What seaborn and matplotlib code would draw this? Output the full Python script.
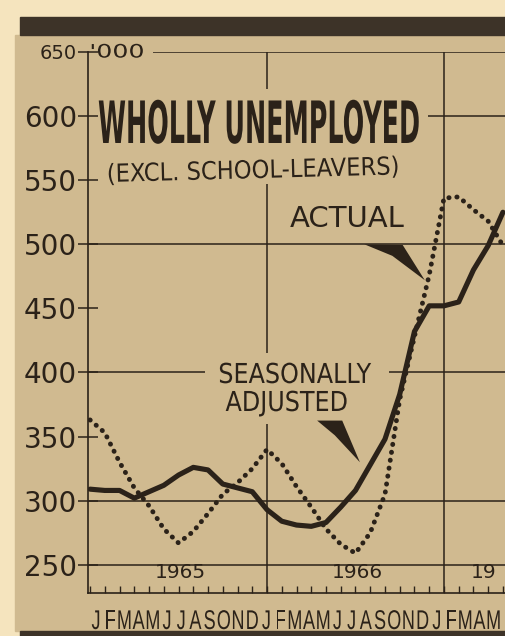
import matplotlib
matplotlib.use("Agg")
import matplotlib.pyplot as plt
import matplotlib.patheffects as pe
from matplotlib.transforms import Affine2D
from matplotlib.patches import Rectangle
import pandas as pd
import seaborn as sns

# wholly unemployed, thousands, one value per month from Jan 1965
months = list(range(29))
actual = [363, 353, 330, 310, 296, 278, 267, 276, 290, 305, 314, 325, 340,
          329, 311, 295, 278, 266, 259, 275, 305, 379, 428, 476, 536, 537,
          527, 518, 499]
adjusted = [309, 308, 308, 302, 307, 312, 320, 326, 324, 313, 310, 307, 293,
            284, 281, 280, 283, 295, 308, 328, 348, 383, 432, 452, 452, 455,
            480, 499, 525]
month_letters = list("JFMAMJJASONDJFMAMJJASONDJFMAM")
year_labels = ["1965", "1966", "19"]   # the third one is cropped in the cutting
y_ticks = [250, 300, 350, 400, 450, 500, 550, 600, 650]

PAPER = "#f5e4be"
SCREEN = "#d0ba90"
INK = "#2b2219"
W, H = 505, 636


class Shape(pe.AbstractPathEffect):
    """Squeeze/stretch glyphs, to get the tall poster lettering."""
    def __init__(self, sx, sy):
        super().__init__()
        self.sx, self.sy = sx, sy

    def draw_path(self, renderer, gc, tpath, affine, rgbFace=None):
        renderer.draw_path(gc, tpath, Affine2D().scale(self.sx, self.sy) + affine, rgbFace)


def px(x, y):
    return x / W, 1 - y / H


sns.set_style("ticks")
plt.rcParams["font.family"] = ["DejaVu Sans"]

fig = plt.figure(figsize=(W / 100, H / 100), dpi=100)
fig.patch.set_facecolor(PAPER)

# halftone screen and the dark rules at top and bottom
fig.add_artist(Rectangle(px(15, 631), (W - 15) / W, 596 / H, transform=fig.transFigure,
                         color=SCREEN, zorder=-2))
fig.add_artist(Rectangle(px(20, 35), (W - 20) / W, 18 / H, transform=fig.transFigure,
                         color="#3d3328", zorder=-1))
fig.add_artist(Rectangle(px(20, 636), (W - 20) / W, 5 / H, transform=fig.transFigure,
                         color="#3d3328", zorder=-1))

ax = fig.add_axes([88 / W, 1 - 593 / H, 1 - 88 / W, (593 - 52) / H])
ax.set_facecolor("none")

df = pd.DataFrame({"month": months, "actual": actual, "adjusted": adjusted})
sns.lineplot(data=df, x="month", y="adjusted", ax=ax, color=INK, lw=3.7,
             solid_capstyle="round", solid_joinstyle="round", zorder=4)
sns.lineplot(data=df, x="month", y="actual", ax=ax, color=INK, lw=3.5,
             linestyle=(0, (0.05, 1.6)), dash_capstyle="round", zorder=5)

ax.set_xlim(-0.14, 28.14)
ax.set_ylim(228, 650)
ax.set_xlabel("")
ax.set_ylabel("")

# grid, broken where the lettering sits
grid_kw = dict(color=INK, lw=1.1, zorder=2)
ax.hlines(650, 4.27, 28.2, **grid_kw)
ax.hlines(600, 22.9, 28.2, **grid_kw)
ax.hlines([500, 300, 250], -0.14, 28.2, **grid_kw)
ax.hlines(400, -0.14, 7.8, **grid_kw)
ax.hlines(400, 20.3, 28.2, **grid_kw)
ax.vlines(12, 621, 650, **grid_kw)
ax.vlines(12, 415, 547, **grid_kw)
ax.vlines(12, 228, 360, **grid_kw)
ax.vlines(24, 228, 650, **grid_kw)

# pointers
ax.fill([18.6, 21.2, 22.7, 20.5], [500, 499.5, 472, 491], color=INK, lw=0, zorder=3)
ax.fill([15.4, 17.1, 18.3, 16.6], [362.5, 362.5, 330, 351], color=INK, lw=0, zorder=3)

ax.set_yticks(y_ticks)
ax.set_yticklabels([str(v) for v in y_ticks])
ax.tick_params(axis="y", direction="inout", length=14, width=1.1, color=INK,
               pad=1, labelsize=20, labelcolor=INK)
ax.get_yticklabels()[-1].set_fontsize(14)
ax.set_xticks(months)
ax.set_xticklabels([])
ax.tick_params(axis="x", direction="in", length=5, width=1.0, color=INK)
for side in ["top", "right"]:
    ax.spines[side].set_visible(False)
for side in ["left", "bottom"]:
    ax.spines[side].set_color(INK)
    ax.spines[side].set_linewidth(1.2)

ax.text(-0.05, 650, "'000", fontsize=14, color=INK, va="center", ha="left",
        path_effects=[Shape(1.3, 0.95)])

for lbl, m in zip(year_labels[:2], [6.1, 18.1]):
    ax.text(m, 240, lbl, fontsize=14.5, color=INK, ha="center", va="baseline")
ax.text(25.8, 240, year_labels[2], fontsize=14.5, color=INK, ha="left", va="baseline")

for k, ch in enumerate(month_letters):
    fig.text(*px(96 + 14.2 * k, 629), ch, fontsize=13, color=INK, ha="center",
             va="baseline", family=["Liberation Sans", "DejaVu Sans"],
             path_effects=[Shape(1.0, 1.5)])

fig.text(*px(98, 143), "WHOLLY UNEMPLOYED", fontsize=21, fontweight="bold",
         color=INK, va="baseline", path_effects=[Shape(0.87, 2.0)])
fig.text(*px(107, 182), "(EXCL. SCHOOL-LEAVERS)", fontsize=16.3, color=INK,
         va="baseline", rotation=1.5, rotation_mode="anchor",
         path_effects=[Shape(1.0, 1.1)])
fig.text(*px(347, 227), "ACTUAL", fontsize=21, color=INK, ha="center", va="baseline")
fig.text(*px(295, 383), "SEASONALLY", fontsize=17.2, color=INK, ha="center",
         va="baseline", path_effects=[Shape(1.0, 1.15)])
fig.text(*px(287, 411), "ADJUSTED", fontsize=17.2, color=INK, ha="center",
         va="baseline", path_effects=[Shape(1.0, 1.15)])

fig.savefig("out.png", dpi=100, facecolor=PAPER)
